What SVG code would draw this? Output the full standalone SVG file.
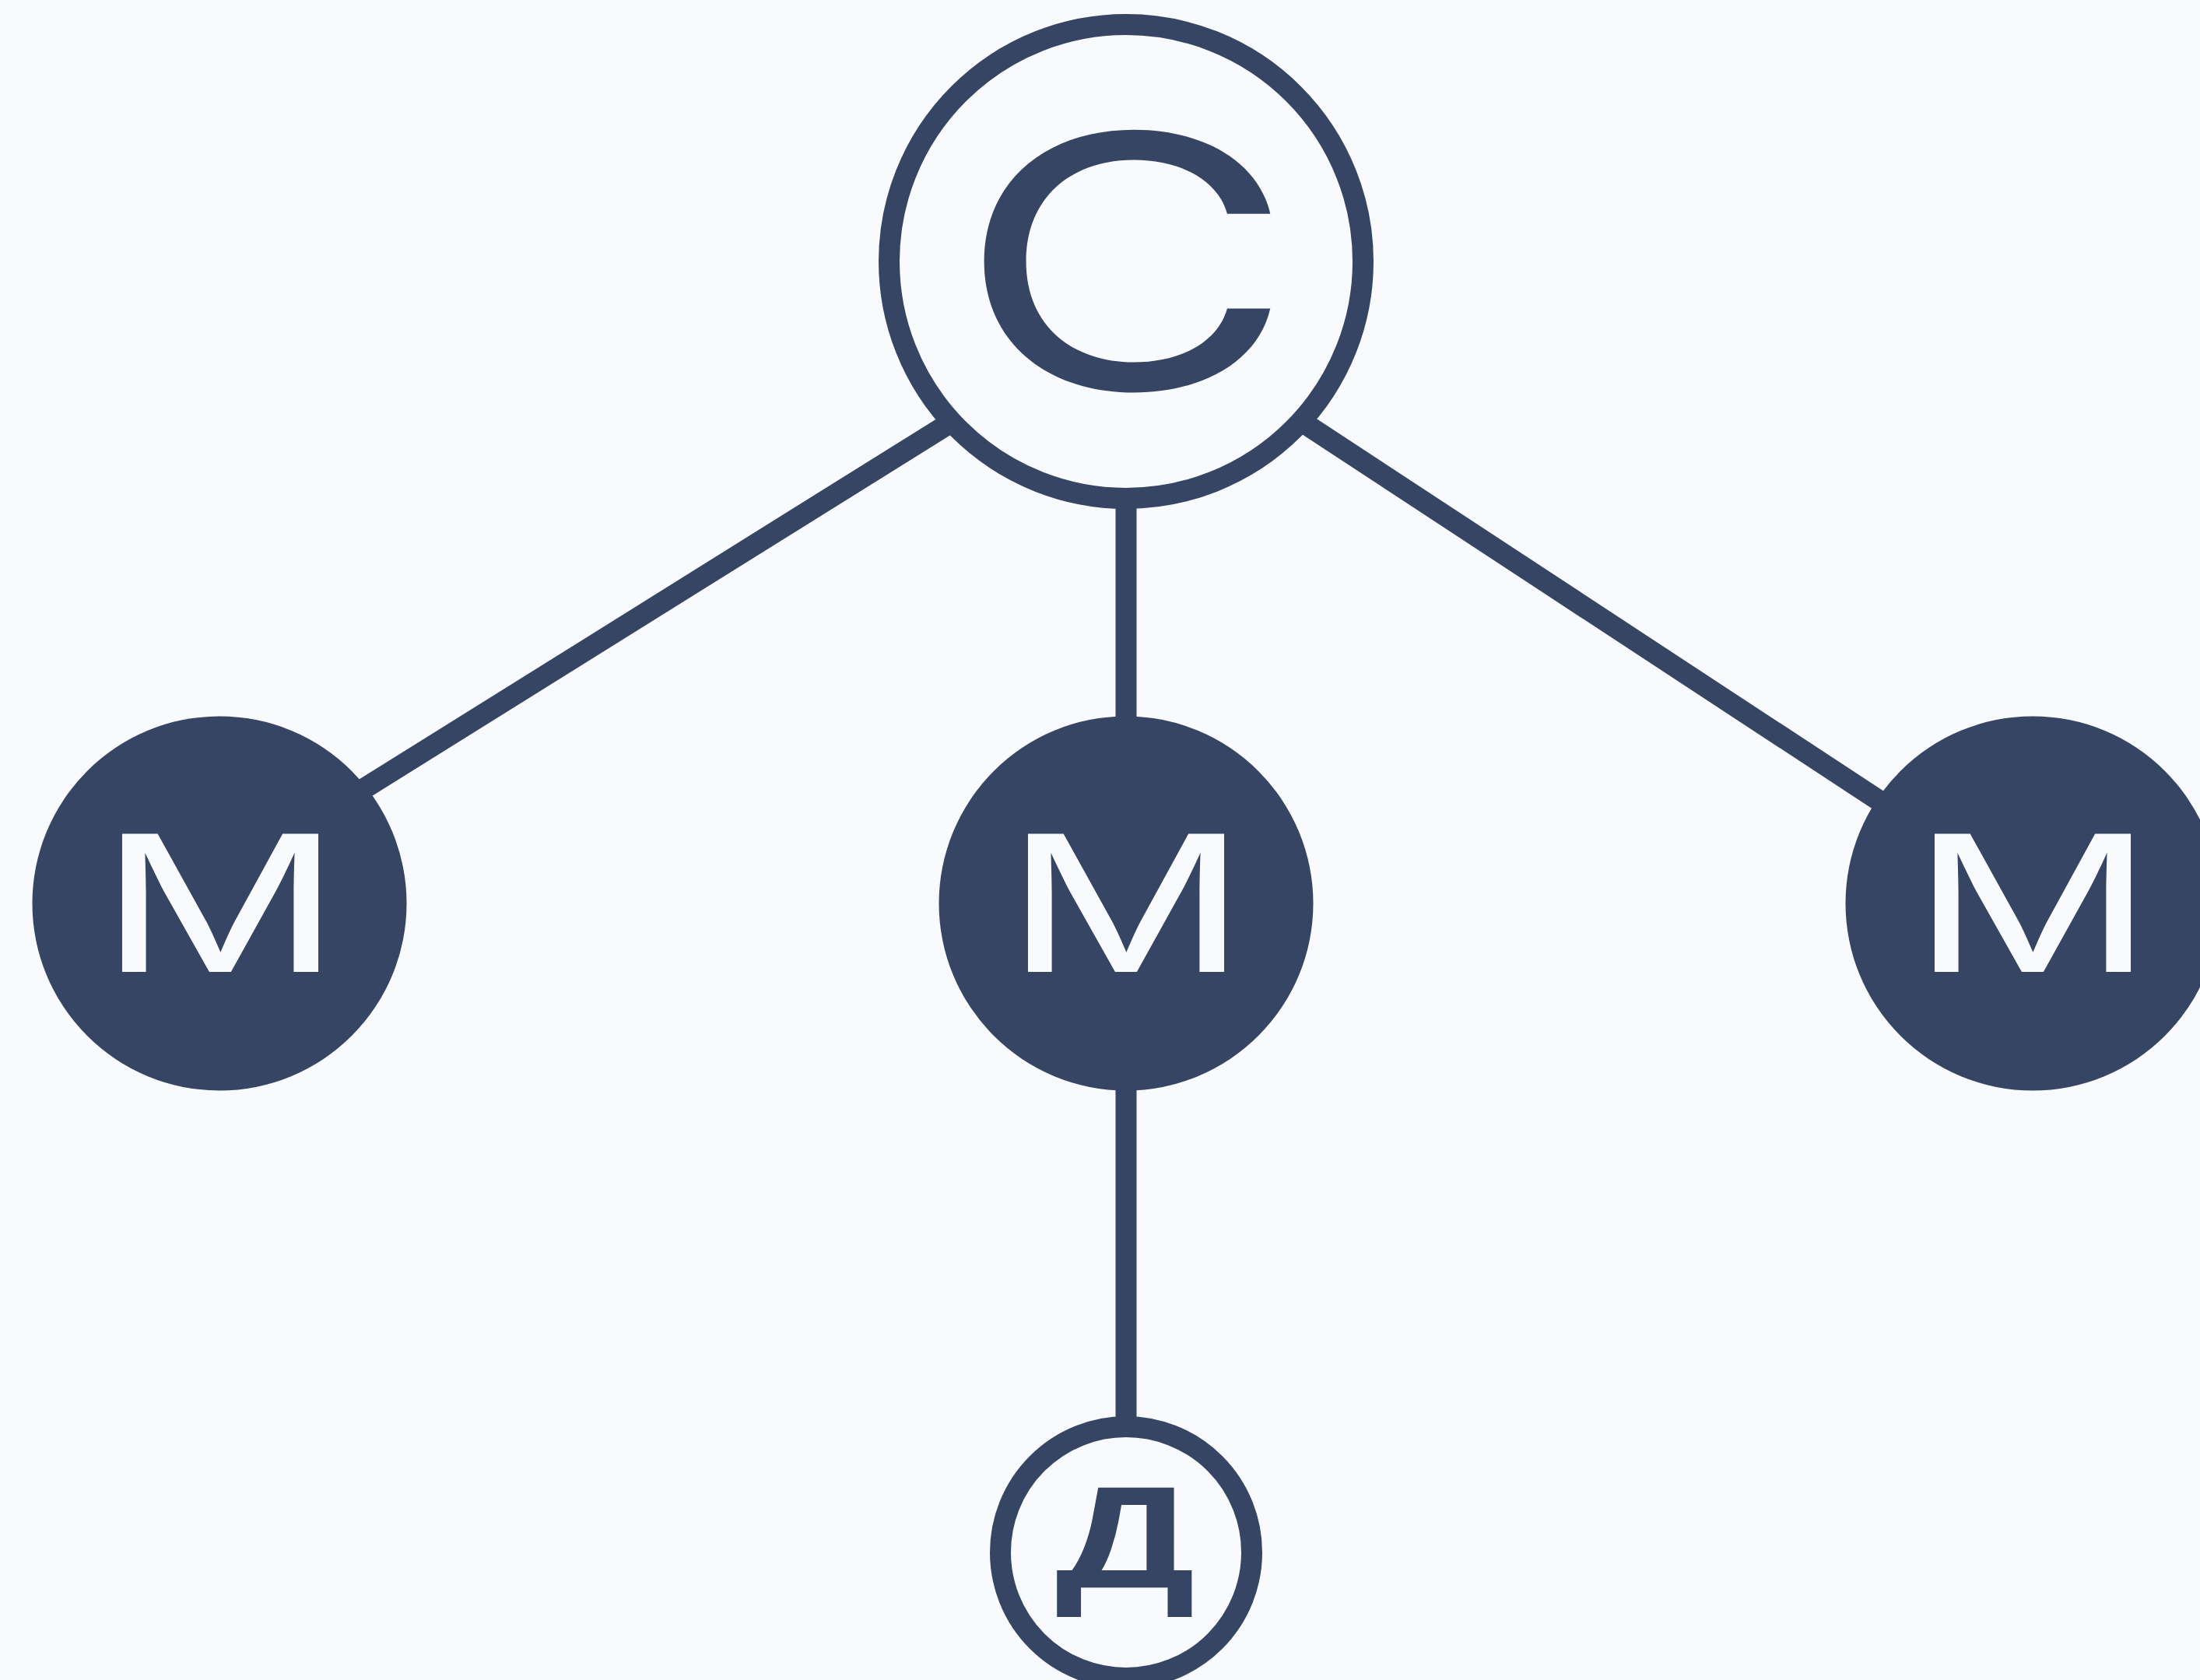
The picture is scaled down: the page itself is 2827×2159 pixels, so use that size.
<svg xmlns="http://www.w3.org/2000/svg" width="2827" height="2159" viewBox="0 0 2827 2159">
  <style>
    .edge { stroke: #354563; stroke-width: 27; fill: none; }
    .ring { fill: #F9FAFE; stroke: #354563; stroke-width: 27; }
    .disc { fill: #354563; }
    .lbl { font-family: "Liberation Sans", Arial, sans-serif; text-anchor: middle; }
    .wide { font-family: Inter, "Liberation Sans", sans-serif; text-anchor: middle; }
    .dark { fill: #354563; }
    .light { fill: #F9FAFE; }
  </style>
  <rect x="0" y="0" width="2827" height="2159" fill="#F9FAFE"/>

  <!-- connectors -->
  <g id="connectors">
    <line class="edge" x1="1300" y1="494" x2="350" y2="1087"/>
    <line class="edge" x1="1600" y1="494" x2="2500" y2="1085"/>
    <line class="edge" x1="1447" y1="500" x2="1447" y2="1161"/>
    <line class="edge" x1="1447" y1="1161" x2="1447" y2="1995"/>
  </g>

  <!-- root node -->
  <g id="node-s">
    <circle class="ring" cx="1447" cy="336" r="304.5"/>
    <text class="wide dark" font-size="452" transform="translate(1447,500) scale(1.32,1)">С</text>
  </g>

  <!-- middle row -->
  <g id="node-m-left">
    <circle class="disc" cx="282" cy="1161" r="240.5"/>
    <text class="wide light" font-size="244" transform="translate(283,1249) scale(1.42,1)">М</text>
  </g>
  <g id="node-m-center">
    <circle class="disc" cx="1447" cy="1161" r="240.5"/>
    <text class="wide light" font-size="244" transform="translate(1447,1249) scale(1.42,1)">М</text>
  </g>
  <g id="node-m-right">
    <circle class="disc" cx="2612" cy="1161" r="240.5"/>
    <text class="wide light" font-size="244" transform="translate(2612,1249) scale(1.42,1)">М</text>
  </g>

  <!-- leaf node -->
  <g id="node-d">
    <circle class="ring" cx="1447" cy="1995" r="161.5"/>
    <text class="lbl dark" font-size="187" font-weight="bold" transform="translate(1446,2041) scale(1.35,1)">Д</text>
  </g>
</svg>
